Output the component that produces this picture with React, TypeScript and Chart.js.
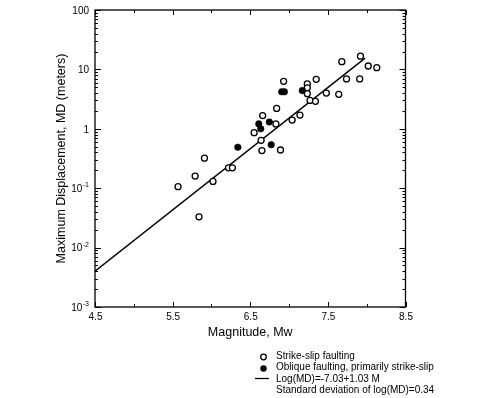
import React, { useEffect, useRef } from "react";
import { Chart, registerables } from "chart.js";

Chart.register(...registerables);

// Strike-slip faulting (open circles)
const strikeSlipM = [5.57, 5.79, 5.84, 5.91, 6.02, 6.22, 6.27, 6.55, 6.64, 6.65, 6.66, 6.83, 6.84, 6.89, 6.93, 7.04, 7.14, 7.235, 7.235, 7.235, 7.27, 7.34, 7.35, 7.48, 7.64, 7.68, 7.74, 7.91, 7.92, 8.02, 8.13];
const strikeSlipMD = [0.106, 0.16, 0.033, 0.32, 0.13, 0.22, 0.22, 0.86, 0.64, 0.43, 1.67, 1.21, 2.2, 0.44, 6.3, 1.4, 1.7, 5.7, 4.9, 3.9, 3.0, 2.9, 6.8, 4.0, 3.8, 13.5, 6.9, 6.9, 16.7, 11.4, 10.7];

// Oblique faulting, primarily strike-slip (filled circles)
const obliqueM = [6.34, 6.61, 6.635, 6.746, 6.77, 6.905, 6.94, 7.17];
const obliqueMD = [0.49, 1.21, 1.0, 1.3, 0.54, 4.2, 4.2, 4.4];

// Regression line Log(MD) = -7.03 + 1.03 M (end points)
const fitM = [4.5, 7.98];
const fitMD = [0.004, 15.5];

const xTickValues = [4.5, 5.5, 6.5, 7.5, 8.5];
const xTickLabels = ["4.5", "5.5", "6.5", "7.5", "8.5"];
const xMinorValues = [5, 6, 7, 8];
const yDecades = [0.001, 0.01, 0.1, 1, 10, 100];
const yDecadeBase = ["10", "10", "10", "1", "10", "100"];
const yDecadeExp = ["-3", "-2", "-1", "", "", ""];

const xTitle = "Magnitude, Mw";
const yTitle = "Maximum Displacement, MD (meters)";
const legendLabels = [
  "Strike-slip faulting",
  "Oblique faulting, primarily strike-slip",
  "Log(MD)=-7.03+1.03 M",
  "Standard deviation of log(MD)=0.34",
];

const FONT = "'Liberation Sans', Arial, Helvetica, sans-serif";

const decorPlugin = {
  id: "decor",
  afterDraw(chart: any) {
    const ctx = chart.ctx as CanvasRenderingContext2D;
    const { left, right, top, bottom } = chart.chartArea;
    const xs = chart.scales.x;
    const ys = chart.scales.y;
    ctx.save();
    ctx.strokeStyle = "#000";
    ctx.fillStyle = "#000";
    ctx.lineWidth = 1.3;
    ctx.strokeRect(left, top, right - left, bottom - top);

    ctx.lineWidth = 1;
    ctx.beginPath();
    const xTick = (v: number, len: number) => {
      const px = Math.round(xs.getPixelForValue(v)) + 0.5;
      ctx.moveTo(px, bottom);
      ctx.lineTo(px, bottom - len);
      ctx.moveTo(px, top);
      ctx.lineTo(px, top + len);
    };
    xTickValues.forEach((v) => xTick(v, 5));
    xMinorValues.forEach((v) => xTick(v, 3));
    const yTick = (v: number, len: number) => {
      const py = Math.round(ys.getPixelForValue(v)) + 0.5;
      ctx.moveTo(left, py);
      ctx.lineTo(left + len, py);
      ctx.moveTo(right, py);
      ctx.lineTo(right - len, py);
    };
    for (let i = 0; i < yDecades.length; i++) {
      const d = yDecades[i];
      yTick(d, 6);
      if (i < yDecades.length - 1) {
        for (let k = 2; k <= 9; k++) yTick(d * k, 3);
      }
    }
    ctx.stroke();

    // x tick labels
    ctx.font = `10px ${FONT}`;
    ctx.textAlign = "center";
    ctx.textBaseline = "middle";
    xTickValues.forEach((v, i) => {
      ctx.fillText(xTickLabels[i], xs.getPixelForValue(v) + 0.5, 317);
    });

    // y tick labels with superscript exponents
    for (let i = 0; i < yDecades.length; i++) {
      const py = ys.getPixelForValue(yDecades[i]);
      const base = yDecadeBase[i];
      const exp = yDecadeExp[i];
      const xr = left - 6;
      ctx.font = `7px ${FONT}`;
      const ew = exp ? ctx.measureText(exp).width : 0;
      if (exp) {
        ctx.textAlign = "right";
        ctx.fillText(exp, xr, py - 3);
      }
      ctx.font = `10px ${FONT}`;
      ctx.textAlign = "right";
      ctx.fillText(base, xr - ew - (exp ? 0.5 : 0), py + 1);
    }

    // axis titles
    ctx.font = `12.5px ${FONT}`;
    ctx.textAlign = "center";
    ctx.textBaseline = "middle";
    ctx.fillText(xTitle, (left + right) / 2, 333);
    ctx.save();
    ctx.translate(62, (top + bottom) / 2);
    ctx.rotate(-Math.PI / 2);
    ctx.fillText(yTitle, 0, 0);
    ctx.restore();

    // legend
    const lx = 276;
    const ly = [356, 367.5, 379, 390.5];
    ctx.font = `10px ${FONT}`;
    ctx.textAlign = "left";
    ctx.textBaseline = "middle";
    legendLabels.forEach((t, i) => ctx.fillText(t, lx, ly[i]));
    ctx.lineWidth = 1.3;
    ctx.beginPath();
    ctx.arc(263.5, ly[0] + 1, 2.8, 0, Math.PI * 2);
    ctx.fillStyle = "#fff";
    ctx.fill();
    ctx.stroke();
    ctx.fillStyle = "#000";
    ctx.beginPath();
    ctx.arc(263.5, ly[1] + 1, 3.2, 0, Math.PI * 2);
    ctx.fill();
    ctx.beginPath();
    ctx.moveTo(255, ly[2] - 0.5);
    ctx.lineTo(269, ly[2] - 0.5);
    ctx.stroke();
    ctx.restore();
  },
};

export default function App() {
  const ref = useRef<HTMLCanvasElement | null>(null);
  useEffect(() => {
    if (!ref.current) return;
    const chart = new Chart(ref.current, {
      type: "scatter",
      data: {
        datasets: [
          {
            label: legendLabels[2],
            type: "line",
            data: fitM.map((m, i) => ({ x: m, y: fitMD[i] })),
            borderColor: "#000",
            borderWidth: 1.4,
            pointRadius: 0,
            fill: false,
            order: 3,
          },
          {
            label: legendLabels[0],
            data: strikeSlipM.map((m, i) => ({ x: m, y: strikeSlipMD[i] })),
            pointRadius: 3,
            pointBorderWidth: 1.3,
            pointBorderColor: "#000",
            pointBackgroundColor: "#fff",
            order: 2,
          },
          {
            label: legendLabels[1],
            data: obliqueM.map((m, i) => ({ x: m, y: obliqueMD[i] })),
            pointRadius: 3.3,
            pointBorderWidth: 0.5,
            pointBorderColor: "#000",
            pointBackgroundColor: "#000",
            order: 1,
          },
        ],
      },
      options: {
        responsive: false,
        animation: false,
        layout: { padding: { top: 10, right: 85.5, bottom: 71, left: 0 } },
        plugins: { legend: { display: false }, tooltip: { enabled: false } },
        scales: {
          x: {
            type: "linear",
            min: 4.5,
            max: 8.5,
            grid: { display: false },
            border: { display: false },
            afterBuildTicks: (s: any) => {
              s.ticks = xTickValues.map((v) => ({ value: v }));
            },
            ticks: { display: false },
            afterFit: (s: any) => {
              s.height = 20;
            },
          },
          y: {
            type: "logarithmic",
            min: 0.001,
            max: 100,
            grid: { display: false },
            border: { display: false },
            afterBuildTicks: (s: any) => {
              s.ticks = yDecades.map((v) => ({ value: v }));
            },
            ticks: { display: false },
            afterFit: (s: any) => {
              s.width = 95;
            },
          },
        },
      },
      plugins: [decorPlugin],
    });
    return () => chart.destroy();
  }, []);
  return (
    <div style={{ position: "fixed", left: 0, top: 0, width: 491, height: 398, background: "#fff" }}>
      <canvas ref={ref} width={491} height={398} style={{ width: 491, height: 398 }} />
    </div>
  );
}
